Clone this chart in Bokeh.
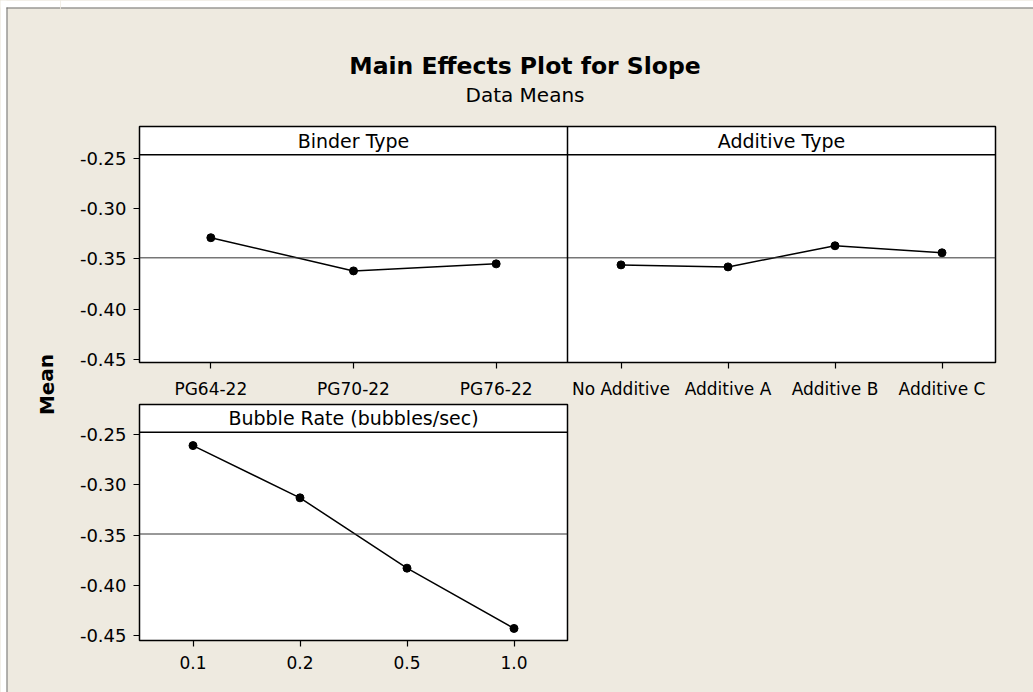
from bokeh.plotting import figure
from bokeh.layouts import row, column
from bokeh.models import Range1d, FixedTicker, PrintfTickFormatter, Span
from bokeh.core.properties import value
from bokeh.embed import file_html
from bokeh.resources import INLINE

# ---- data: mean slope per factor level ----
binder_levels = ["PG64-22", "PG70-22", "PG76-22"]
binder_means = [-0.329, -0.362, -0.355]

additive_levels = ["No Additive", "Additive A", "Additive B", "Additive C"]
additive_means = [-0.356, -0.358, -0.337, -0.344]

bubble_levels = ["0.1", "0.2", "0.5", "1.0"]
bubble_means = [-0.261, -0.313, -0.383, -0.443]

grand_mean = -0.349
y_ticks = [-0.25, -0.30, -0.35, -0.40, -0.45]

# ---- styling ----
BEIGE = "#EEEAE0"
EDGE = "#6E6E6E"
FONT = "DejaVu Sans"
TICK_PX = "17px"
YTICK_PX = "18px"
HEAD_PX = "19px"
BG = {"background-color": BEIGE}


def blank(width, height, xr, yr):
    p = figure(width=width, height=height, x_range=xr, y_range=yr,
               output_backend="svg", toolbar_location=None,
               x_axis_location=None, y_axis_location=None,
               min_border=0)
    p.grid.visible = False
    p.outline_line_color = None
    p.background_fill_color = BEIGE
    p.border_fill_color = BEIGE
    return p


def style_panel(p, x_standoff):
    p.grid.visible = False
    p.background_fill_color = "white"
    p.border_fill_color = BEIGE
    p.outline_line_color = "black"
    p.outline_line_width = 1.5
    for ax in (p.xaxis[0], p.yaxis[0]):
        ax.axis_line_color = None
        ax.major_tick_line_color = "black"
        ax.major_tick_line_width = 1.2
        ax.major_tick_out = 6
        ax.major_tick_in = 0
        ax.minor_tick_line_color = None
        ax.major_label_text_font = FONT
        ax.major_label_text_color = "black"
    p.xaxis.major_label_text_font_size = TICK_PX
    p.xaxis.major_label_standoff = x_standoff
    p.yaxis.major_label_text_font_size = YTICK_PX
    p.yaxis.major_label_standoff = 7
    p.yaxis.ticker = FixedTicker(ticks=y_ticks)
    p.yaxis.formatter = PrintfTickFormatter(format="%.2f")


def header(p, x, y, label):
    p.text(x=[x], y=[y], text=[label], text_font=value(FONT),
           text_font_size=HEAD_PX, text_align="center",
           text_baseline="middle", text_color="black")


def effect_line(p, xs, ys):
    p.line(xs, ys, line_color="black", line_width=1.5)
    p.scatter(xs, ys, size=8, fill_color="black", line_color="black")


# ---- left strip: page edge and shared y label ----
left = blank(60, 692, Range1d(0, 60), Range1d(692, 0))
left.quad(left=[0, 0], right=[6, 60], top=[0, 0], bottom=[692, 7],
          fill_color="white", line_color=None)
left.segment(x0=[6.5, 6], y0=[7, 7.5], x1=[6.5, 60], y1=[692, 7.5],
             line_color=EDGE, line_width=1)
left.text(x=[46], y=[384], text=["Mean"], angle=1.5708,
          text_font=value(FONT), text_font_style="bold",
          text_font_size="20px", text_align="center",
          text_baseline="middle", text_color="black")

# ---- title block ----
top_strip = blank(973, 124, Range1d(60, 1033), Range1d(124, 0))
top_strip.quad(left=[60], right=[1033], top=[0], bottom=[7],
               fill_color="white", line_color=None)
top_strip.segment(x0=[60], y0=[7.5], x1=[1033], y1=[7.5],
                  line_color=EDGE, line_width=1)
top_strip.text(x=[524.5], y=[65], text=["Main Effects Plot for Slope"],
               text_font=value(FONT), text_font_style="bold",
               text_font_size="23.5px", text_align="center",
               text_baseline="alphabetic", text_color="black")
top_strip.text(x=[524.5], y=[94], text=["Data Means"],
               text_font=value(FONT), text_font_size="20px",
               text_align="center", text_baseline="alphabetic",
               text_color="black")

# ---- upper row: Binder Type (x 0..6) and Additive Type (x 6..12) ----
n_b, n_a = len(binder_levels), len(additive_levels)
wb, wa = 6.0 / n_b, 6.0 / n_a
bx = [(i + 0.5) * wb for i in range(n_b)]
ax_ = [6.0 + (i + 0.5) * wa for i in range(n_a)]

up_lo, up_hdr, up_hi = -0.453, -0.2466, -0.2185
upper = figure(width=973, height=278, x_range=Range1d(0, 12),
               y_range=Range1d(up_lo, up_hi),
               output_backend="svg", toolbar_location=None,
               min_border_left=79, min_border_right=38,
               min_border_top=2, min_border_bottom=40)
style_panel(upper, 10)
upper.yaxis.bounds = (up_lo, up_hdr)
upper.xaxis.ticker = FixedTicker(ticks=bx + ax_)
upper.xaxis.major_label_overrides = dict(
    zip(bx + ax_, binder_levels + additive_levels))

upper.add_layout(Span(location=grand_mean, dimension="width",
                      line_color="#333333", line_width=1))
upper.add_layout(Span(location=up_hdr, dimension="width",
                      line_color="black", line_width=1.5))
upper.add_layout(Span(location=6.0, dimension="height",
                      line_color="black", line_width=1.5))
header(upper, 3.0, (up_hdr + up_hi) / 2, "Binder Type")
header(upper, 9.0, (up_hdr + up_hi) / 2, "Additive Type")
effect_line(upper, bx, binder_means)
effect_line(upper, ax_, additive_means)

# ---- lower row: Bubble Rate ----
n_r = len(bubble_levels)
rx = [i + 0.5 for i in range(n_r)]
lo_lo, lo_hdr, lo_hi = -0.455, -0.2477, -0.2201
lower = figure(width=973, height=290, x_range=Range1d(0, n_r),
               y_range=Range1d(lo_lo, lo_hi),
               output_backend="svg", toolbar_location=None,
               min_border_left=79, min_border_right=466,
               min_border_top=2, min_border_bottom=52)
style_panel(lower, 9)
lower.yaxis.bounds = (lo_lo, lo_hdr)
lower.xaxis.ticker = FixedTicker(ticks=rx)
lower.xaxis.major_label_overrides = dict(zip(rx, bubble_levels))

lower.add_layout(Span(location=grand_mean, dimension="width",
                      line_color="#333333", line_width=1))
lower.add_layout(Span(location=lo_hdr, dimension="width",
                      line_color="black", line_width=1.5))
header(lower, n_r / 2, (lo_hdr + lo_hi) / 2, "Bubble Rate (bubbles/sec)")
effect_line(lower, rx, bubble_means)

# each plot sits in its own row so the column does not align their frames
layout = row(left,
             column(row(top_strip, styles=BG), row(upper, styles=BG),
                    row(lower, styles=BG), spacing=0, styles=BG),
             spacing=0, styles=BG)

open("out.html", "w").write(file_html(layout, INLINE))
